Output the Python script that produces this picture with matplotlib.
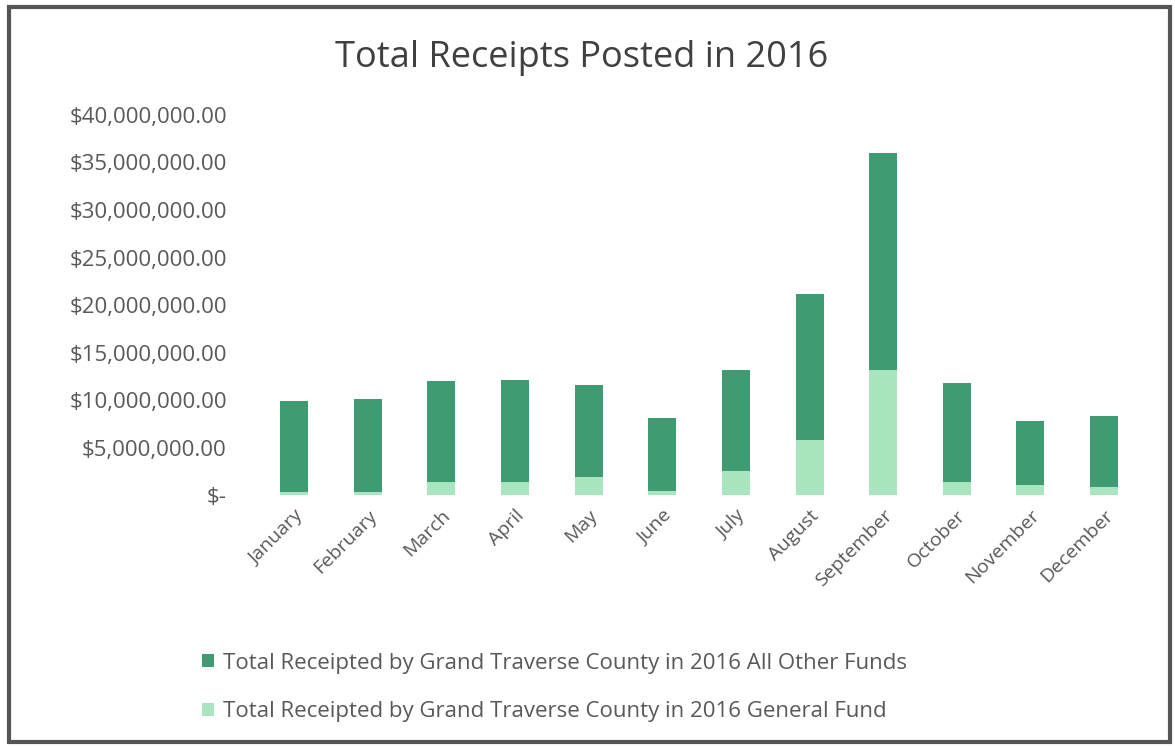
import numpy as np
import matplotlib
matplotlib.use("Agg")
import matplotlib.pyplot as plt
from matplotlib.patches import Rectangle
from matplotlib.ticker import FuncFormatter

# ── Monthly receipts, 2016 (dollars) ──────────────────────────────────────────
MONTHS = ["January", "February", "March", "April", "May", "June",
          "July", "August", "September", "October", "November", "December"]
GENERAL_FUND = [0.3e6, 0.4e6, 1.4e6, 1.4e6, 1.9e6, 0.5e6,
                2.6e6, 5.8e6, 13.2e6, 1.4e6, 1.1e6, 0.9e6]
OTHER_FUNDS = [9.6e6, 9.7e6, 10.6e6, 10.7e6, 9.7e6, 7.6e6,
               10.6e6, 15.4e6, 22.8e6, 10.4e6, 6.7e6, 7.4e6]
Y_TICKS = [0, 5e6, 10e6, 15e6, 20e6, 25e6, 30e6, 35e6, 40e6]

DARK_GREEN = "#3f9c72"
LIGHT_GREEN = "#a9e5bf"
TEXT_GRAY = "#595959"
FONT = "Open Sans"


def money(v, _pos):
    if v == 0:
        return "$-"
    return f"${v:,.2f}"


fig = plt.figure(figsize=(11.75, 7.46), dpi=100)
fig.patch.set_facecolor("white")

ax = fig.add_axes([0.219, 0.336, 0.752, 0.510])
x = np.arange(len(MONTHS))
ax.bar(x, GENERAL_FUND, width=0.38, color=LIGHT_GREEN,
       label="Total Receipted by Grand Traverse County in 2016 General Fund")
ax.bar(x, OTHER_FUNDS, width=0.38, bottom=GENERAL_FUND, color=DARK_GREEN,
       label="Total Receipted by Grand Traverse County in 2016 All Other Funds")

ax.set_xlim(-0.5, 11.5)
ax.set_ylim(0, 40e6)
ax.set_yticks(Y_TICKS)
ax.yaxis.set_major_formatter(FuncFormatter(money))
ax.set_xticks(x)
ax.set_xticklabels(MONTHS, rotation=45, ha="right", rotation_mode="anchor")
ax.tick_params(axis="both", length=0, colors=TEXT_GRAY)
ax.tick_params(axis="y", pad=22, labelsize=16)
ax.tick_params(axis="x", pad=8, labelsize=14)
for lbl in ax.get_xticklabels() + ax.get_yticklabels():
    lbl.set_fontfamily(FONT)
for s in ax.spines.values():
    s.set_visible(False)

fig.text(0.495, 0.922, "Total Receipts Posted in 2016", ha="center", va="center",
         fontsize=26, color="#404040", family=FONT)

# legend: other funds first, then general fund
handles, labels = ax.get_legend_handles_labels()
leg = fig.legend(handles[::-1], labels[::-1], loc="upper left",
                 bbox_to_anchor=(0.155, 0.152), ncol=1, frameon=False,
                 handlelength=0.55, handleheight=0.55,
                 handletextpad=0.4, labelspacing=1.25,
                 prop={"family": FONT, "size": 16})
for t in leg.get_texts():
    t.set_color(TEXT_GRAY)

# outer frame
fig.patches.append(Rectangle((0.008, 0.006), 0.988, 0.985, transform=fig.transFigure,
                             fill=False, edgecolor="#555555", linewidth=3))

fig.savefig("out.png", dpi=100)
